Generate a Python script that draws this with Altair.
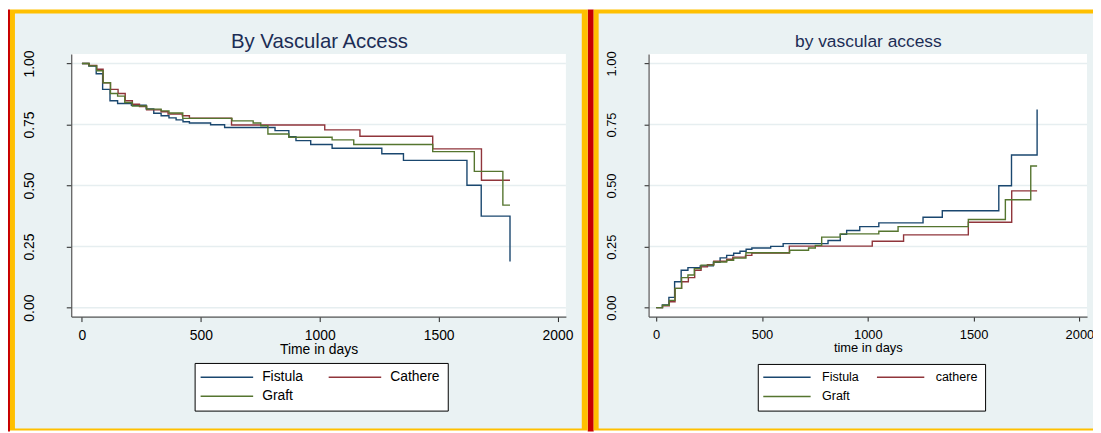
import altair as alt
import pandas as pd

# ---------------- data ----------------
groups_left = ["Fistula", "Cathere", "Graft"]
groups_right = ["Fistula", "cathere", "Graft"]
line_colors = ["#1A476F", "#90353B", "#55752F"]

fistula_days = [0, 29, 60, 87, 118, 150, 208, 270, 302, 333, 366, 396, 425, 452,
                541, 600, 812, 870, 900, 962, 1052, 1261, 1352, 1619, 1679, 1800]
fistula_surv = [1.0, 0.989, 0.958, 0.894, 0.847, 0.836, 0.829, 0.814, 0.796, 0.786,
                0.777, 0.769, 0.761, 0.756, 0.749, 0.738, 0.725, 0.700, 0.684, 0.668,
                0.653, 0.630, 0.603, 0.501, 0.375, 0.189]
fistula_fail = [0.0, 0.011, 0.042, 0.106, 0.153, 0.164, 0.171, 0.186, 0.204, 0.214,
                0.223, 0.231, 0.239, 0.244, 0.251, 0.262, 0.275, 0.300, 0.316, 0.332,
                0.347, 0.370, 0.397, 0.499, 0.625, 0.811]

cathere_days = [0, 30, 62, 89, 120, 152, 182, 212, 242, 272, 333, 362, 422, 452,
                629, 1021, 1169, 1475, 1680, 1800]
cathere_surv = [1.0, 0.992, 0.976, 0.921, 0.894, 0.877, 0.847, 0.833, 0.824, 0.810,
                0.802, 0.793, 0.786, 0.776, 0.748, 0.728, 0.702, 0.650, 0.522, 0.522]
cathere_fail = [0.0, 0.008, 0.024, 0.079, 0.106, 0.123, 0.153, 0.167, 0.176, 0.190,
                0.198, 0.207, 0.214, 0.224, 0.252, 0.272, 0.298, 0.350, 0.478, 0.478]

graft_days = [0, 30, 62, 89, 120, 150, 180, 212, 272, 333, 366, 424, 631, 720, 752,
              782, 870, 1052, 1143, 1475, 1650, 1770, 1800]
graft_surv = [1.0, 0.990, 0.970, 0.921, 0.877, 0.866, 0.840, 0.826, 0.813, 0.806,
              0.797, 0.775, 0.765, 0.756, 0.745, 0.711, 0.698, 0.687, 0.668, 0.639,
              0.558, 0.420, 0.420]
graft_fail = [0.0, 0.010, 0.030, 0.079, 0.123, 0.134, 0.160, 0.174, 0.187, 0.194,
              0.203, 0.225, 0.235, 0.244, 0.255, 0.289, 0.302, 0.313, 0.332, 0.361,
              0.442, 0.580, 0.580]

x_ticks = [0, 500, 1000, 1500, 2000]
y_ticks = [0.0, 0.25, 0.5, 0.75, 1.0]

title_left = "By  Vascular Access"
title_right = "by vascular access"
xtitle_left = "Time in days"
xtitle_right = "time in days"


def long_frame(names, days_lists, value_lists):
    rows = []
    for name, days, vals in zip(names, days_lists, value_lists):
        for d, v in zip(days, vals):
            rows.append({"group": name, "days": d, "value": v})
    return pd.DataFrame(rows)


df_left = long_frame(groups_left, [fistula_days, cathere_days, graft_days],
                     [fistula_surv, cathere_surv, graft_surv])
df_right = long_frame(groups_right, [fistula_days, cathere_days, graft_days],
                      [fistula_fail, cathere_fail, graft_fail])
grid_df = pd.DataFrame({"value": y_ticks})

# ---------------- layout (page pixels, the page margin is 8px) ----------------
M = 8
W, H = 1101 - M, 433 - M
FONT = "Liberation Sans"
RED = "#C80000"
YELLOW = "#FFC000"
BG = "#EAF2F3"
GRID = "#E6EEF0"
dummy = pd.DataFrame({"k": [0]})


def box(x1, y1, x2, y2, color):
    return alt.Chart(dummy).mark_rect(color=color).encode(
        x=alt.value(x1 - M), x2=alt.value(x2 - M),
        y=alt.value(y1 - M), y2=alt.value(y2 - M))


def label(text, x, y, size, color):
    return alt.Chart(dummy).mark_text(
        text=text, font=FONT, fontSize=size, color=color,
        align="center", baseline="alphabetic").encode(
        x=alt.value(x - M), y=alt.value(y - M))


decor = [
    box(8, 8, 10, 433, RED),
    box(592, 8, 598, 433, RED),
    box(10, 8, 592, 432, YELLOW),
    box(15, 12, 586, 430, BG),
    box(598, 8, 1101, 432, YELLOW),
    box(603, 12, 1101, 430, BG),
    box(72, 52.7, 570, 317.3, "white"),
    box(653.3, 52.7, 1095, 317.3, "white"),
]

Y_TOP, Y_BOT = 52.7, 317.3


def panel(df, names, x0, x1, xdom, xtitle, fs_tick, fs_title, tick, ypad, xpad,
          leg):
    xs = alt.Scale(domain=xdom, range=[x0 - M, x1 - M], nice=False, zero=False)
    ys = alt.Scale(domain=[-0.0366, 1.039], range=[Y_BOT - M, Y_TOP - M],
                   nice=False, zero=False)
    xaxis = alt.Axis(orient="bottom", offset=(Y_BOT - M) - H, values=x_ticks,
                     format="d", grid=False, tickSize=tick, tickColor="#222222",
                     domainColor="#555555", domainWidth=1.2, labelFont=FONT,
                     labelFontSize=fs_tick, labelColor="black", labelPadding=xpad,
                     labelFlush=False, labelOverlap=False,
                     title=xtitle, titleFont=FONT, titleFontSize=fs_title,
                     titleFontWeight="normal", titleColor="black", titlePadding=0,
                     zindex=1)
    yaxis = alt.Axis(orient="left", offset=-(x0 - M), values=y_ticks,
                     format=".2f", grid=False, tickSize=tick, tickColor="#222222",
                     domainColor="#555555", domainWidth=1.2, labelFont=FONT,
                     labelFontSize=fs_tick, labelColor="black", labelAngle=270,
                     labelAlign="center", labelBaseline="alphabetic",
                     labelPadding=ypad, labelFlush=False, labelOverlap=False,
                     title=None, zindex=1)
    yenc = alt.Y("value:Q", scale=ys, axis=yaxis)
    grid = alt.Chart(grid_df).mark_rule(color=GRID, strokeWidth=1.5).encode(
        y=yenc, x=alt.value(x0 - M), x2=alt.value(x1 - M))
    lines = alt.Chart(df).mark_line(interpolate="step-after", strokeWidth=1.4).encode(
        x=alt.X("days:Q", scale=xs, axis=xaxis),
        y=yenc,
        color=alt.Color("group:N", scale=alt.Scale(domain=names, range=line_colors),
                        title=None, legend=leg),
    )
    return alt.layer(grid, lines)


leg_left = alt.Legend(orient="none", legendX=188, legendY=356, columns=2,
                      direction="horizontal",
                      columnPadding=22, rowPadding=5, padding=7.5,
                      strokeColor="black", fillColor="white", cornerRadius=0,
                      symbolType="M-5,0H5", symbolSize=112, symbolStrokeWidth=1.5,
                      symbolOffset=18, labelOffset=28.5, labelFont=FONT,
                      labelFontSize=14, labelColor="black", zindex=1)
leg_right = alt.Legend(orient="none", legendX=755.3, legendY=357, columns=2,
                       direction="horizontal",
                       columnPadding=14.5, rowPadding=6.5, padding=7,
                       strokeColor="black", fillColor="white", cornerRadius=0,
                       symbolType="M-5,0H5", symbolSize=91, symbolStrokeWidth=1.5,
                       symbolOffset=16.1, labelOffset=29, labelFont=FONT,
                       labelFontSize=12.6, labelColor="black", zindex=1)

left = panel(df_left, groups_left, 71.7, 570, [-45, 2035], xtitle_left,
             14, 14, 5, 32.7, 6.7, leg_left)
right = panel(df_right, groups_right, 653.3, 1095, [-36, 2036], xtitle_right,
              13, 13, 4.5, 28.8, 7.3, leg_right)

titles = [
    label(title_left, 321.8, 46.7, 20.5, "#1C2D55"),
    label(title_right, 874.7, 46.2, 17.5, "#1C2D55"),
]

chart = alt.layer(*decor, left, right, *titles).resolve_scale(
    x="independent", y="independent", color="independent"
).properties(
    width=W, height=H, padding=0, background="white",
    autosize=alt.AutoSizeParams(type="none"),
).configure_view(strokeWidth=0)

chart.save("out.html", embed_options={"renderer": "svg", "actions": False})
